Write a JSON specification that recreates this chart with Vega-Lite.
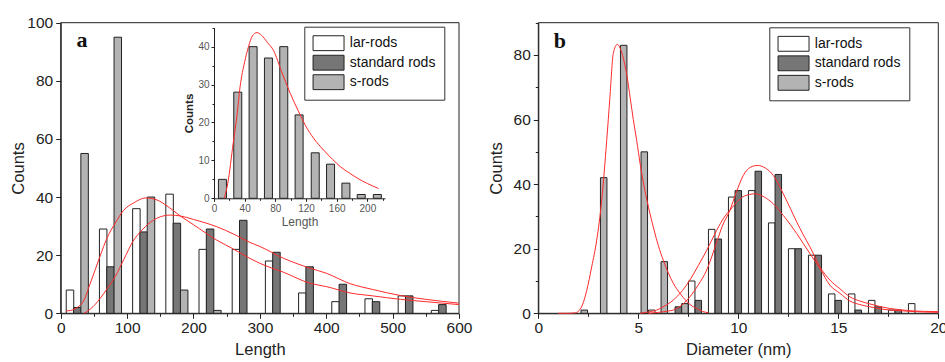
{
  "$schema": "https://vega.github.io/schema/vega-lite/v6.json",
  "width": 945,
  "height": 362,
  "autosize": {"type": "none"},
  "padding": 0,
  "background": "white",
  "config": {
    "font": "Liberation Sans",
    "view": {"stroke": null},
    "axis": {
      "domainColor": "#222", "tickColor": "#222", "labelColor": "#222", "titleColor": "#222",
      "labelFontSize": 15.5, "titleFontSize": 16.5, "titleFontWeight": "normal", "grid": false,
      "labelFont": "Liberation Sans", "titleFont": "Liberation Sans", "labelPadding": 2,
      "domainWidth": 1, "tickWidth": 1
    },
    "legend": {
      "title": null,
      "symbolType": "M-1,-0.96H3V0.96H-1Z",
      "symbolSize": 240,
      "symbolStrokeColor": "#222",
      "symbolStrokeWidth": 1,
      "symbolOpacity": 1,
      "labelFontSize": 14,
      "labelFont": "Liberation Sans",
      "labelColor": "#111",
      "labelOffset": 20.5,
      "rowPadding": 0.5,
      "padding": 8,
      "strokeColor": "#333",
      "fillColor": "white"
    }
  },
  "datasets": {
    "a_bars": [
      {"length": 14, "count": 8, "sample": "lar-rods"},
      {"length": 64, "count": 29, "sample": "lar-rods"},
      {"length": 114, "count": 36, "sample": "lar-rods"},
      {"length": 164, "count": 41, "sample": "lar-rods"},
      {"length": 214, "count": 22, "sample": "lar-rods"},
      {"length": 264, "count": 22, "sample": "lar-rods"},
      {"length": 314, "count": 18, "sample": "lar-rods"},
      {"length": 364, "count": 7, "sample": "lar-rods"},
      {"length": 414, "count": 4, "sample": "lar-rods"},
      {"length": 464, "count": 5, "sample": "lar-rods"},
      {"length": 514, "count": 6, "sample": "lar-rods"},
      {"length": 564, "count": 1, "sample": "lar-rods"},
      {"length": 25, "count": 2, "sample": "standard rods"},
      {"length": 75, "count": 16, "sample": "standard rods"},
      {"length": 125, "count": 28, "sample": "standard rods"},
      {"length": 175, "count": 31, "sample": "standard rods"},
      {"length": 225, "count": 29, "sample": "standard rods"},
      {"length": 275, "count": 32, "sample": "standard rods"},
      {"length": 325, "count": 21, "sample": "standard rods"},
      {"length": 375, "count": 16, "sample": "standard rods"},
      {"length": 425, "count": 10, "sample": "standard rods"},
      {"length": 475, "count": 4, "sample": "standard rods"},
      {"length": 525, "count": 6, "sample": "standard rods"},
      {"length": 575, "count": 3, "sample": "standard rods"},
      {"length": 36, "count": 55, "sample": "s-rods"},
      {"length": 86, "count": 95, "sample": "s-rods"},
      {"length": 136, "count": 40, "sample": "s-rods"},
      {"length": 186, "count": 8, "sample": "s-rods"},
      {"length": 236, "count": 1, "sample": "s-rods"}
    ],
    "a_curves": [
      {"fit": "f1", "length": 8, "count": 0.8}, {"fit": "f1", "length": 15, "count": 1}, {"fit": "f1", "length": 25, "count": 2},
      {"fit": "f1", "length": 35, "count": 4.5}, {"fit": "f1", "length": 44, "count": 10}, {"fit": "f1", "length": 52, "count": 15},
      {"fit": "f1", "length": 59, "count": 19.5}, {"fit": "f1", "length": 70, "count": 26}, {"fit": "f1", "length": 82, "count": 31},
      {"fit": "f1", "length": 95, "count": 35.5}, {"fit": "f1", "length": 110, "count": 38}, {"fit": "f1", "length": 128, "count": 39.7},
      {"fit": "f1", "length": 145, "count": 39}, {"fit": "f1", "length": 160, "count": 37}, {"fit": "f1", "length": 180, "count": 33.5},
      {"fit": "f1", "length": 200, "count": 30.5}, {"fit": "f1", "length": 235, "count": 25.2}, {"fit": "f1", "length": 261, "count": 22},
      {"fit": "f1", "length": 285, "count": 18.9}, {"fit": "f1", "length": 300, "count": 17.2}, {"fit": "f1", "length": 336, "count": 14.1},
      {"fit": "f1", "length": 376, "count": 10.3}, {"fit": "f1", "length": 400, "count": 9.2}, {"fit": "f1", "length": 436, "count": 7},
      {"fit": "f1", "length": 470, "count": 6}, {"fit": "f1", "length": 512, "count": 4.8}, {"fit": "f1", "length": 550, "count": 4},
      {"fit": "f1", "length": 600, "count": 3},
      {"fit": "f2", "length": 35, "count": 0}, {"fit": "f2", "length": 45, "count": 1.5}, {"fit": "f2", "length": 59, "count": 5},
      {"fit": "f2", "length": 70, "count": 8.5}, {"fit": "f2", "length": 82, "count": 12.6}, {"fit": "f2", "length": 95, "count": 18.5},
      {"fit": "f2", "length": 110, "count": 25.2}, {"fit": "f2", "length": 120, "count": 28}, {"fit": "f2", "length": 135, "count": 31.3},
      {"fit": "f2", "length": 150, "count": 33.2}, {"fit": "f2", "length": 165, "count": 33.8}, {"fit": "f2", "length": 180, "count": 33.5},
      {"fit": "f2", "length": 200, "count": 32.3}, {"fit": "f2", "length": 235, "count": 29.8}, {"fit": "f2", "length": 261, "count": 27.2},
      {"fit": "f2", "length": 285, "count": 24.4}, {"fit": "f2", "length": 300, "count": 23}, {"fit": "f2", "length": 336, "count": 18.9},
      {"fit": "f2", "length": 376, "count": 15.5}, {"fit": "f2", "length": 400, "count": 13.8}, {"fit": "f2", "length": 436, "count": 10.2},
      {"fit": "f2", "length": 470, "count": 8.2}, {"fit": "f2", "length": 512, "count": 6.1}, {"fit": "f2", "length": 550, "count": 4.8},
      {"fit": "f2", "length": 600, "count": 3.5}
    ],
    "inset_bars": [
      {"length": 11, "count": 5}, {"length": 31, "count": 28}, {"length": 51, "count": 40}, {"length": 71, "count": 37},
      {"length": 91, "count": 40}, {"length": 111, "count": 22}, {"length": 132, "count": 12}, {"length": 152, "count": 9},
      {"length": 172, "count": 4}, {"length": 192, "count": 1}, {"length": 213, "count": 1}
    ],
    "inset_curve": [
      {"length": 13.5, "count": 0}, {"length": 18, "count": 4}, {"length": 25, "count": 14.5}, {"length": 30, "count": 22},
      {"length": 34, "count": 29.4}, {"length": 40, "count": 36}, {"length": 45, "count": 40}, {"length": 50, "count": 42.8},
      {"length": 56, "count": 43.7}, {"length": 62, "count": 43}, {"length": 70, "count": 41}, {"length": 77.6, "count": 39},
      {"length": 88, "count": 33.5}, {"length": 99.4, "count": 27.7}, {"length": 110, "count": 23}, {"length": 119, "count": 19.3},
      {"length": 130, "count": 15.8}, {"length": 143, "count": 12.7}, {"length": 155, "count": 10.2}, {"length": 165, "count": 8.3},
      {"length": 177, "count": 6.6}, {"length": 187, "count": 5.3}, {"length": 200, "count": 3.9}, {"length": 214.5, "count": 2.6}
    ],
    "b_bars": [
      {"diameter": 5.67, "count": 1, "sample": "lar-rods"},
      {"diameter": 7.67, "count": 10, "sample": "lar-rods"},
      {"diameter": 8.67, "count": 26, "sample": "lar-rods"},
      {"diameter": 9.67, "count": 36, "sample": "lar-rods"},
      {"diameter": 10.67, "count": 38, "sample": "lar-rods"},
      {"diameter": 11.67, "count": 28, "sample": "lar-rods"},
      {"diameter": 12.67, "count": 20, "sample": "lar-rods"},
      {"diameter": 13.67, "count": 18, "sample": "lar-rods"},
      {"diameter": 14.67, "count": 6, "sample": "lar-rods"},
      {"diameter": 15.67, "count": 6, "sample": "lar-rods"},
      {"diameter": 16.67, "count": 4, "sample": "lar-rods"},
      {"diameter": 17.67, "count": 1, "sample": "lar-rods"},
      {"diameter": 18.67, "count": 3, "sample": "lar-rods"},
      {"diameter": 7, "count": 2, "sample": "standard rods"},
      {"diameter": 8, "count": 4, "sample": "standard rods"},
      {"diameter": 9, "count": 23, "sample": "standard rods"},
      {"diameter": 10, "count": 38, "sample": "standard rods"},
      {"diameter": 11, "count": 44, "sample": "standard rods"},
      {"diameter": 12, "count": 43, "sample": "standard rods"},
      {"diameter": 13, "count": 20, "sample": "standard rods"},
      {"diameter": 14, "count": 18, "sample": "standard rods"},
      {"diameter": 15, "count": 4, "sample": "standard rods"},
      {"diameter": 16, "count": 1, "sample": "standard rods"},
      {"diameter": 17, "count": 2, "sample": "standard rods"},
      {"diameter": 18, "count": 1, "sample": "standard rods"},
      {"diameter": 2.3, "count": 1, "sample": "s-rods"},
      {"diameter": 3.27, "count": 42, "sample": "s-rods"},
      {"diameter": 4.27, "count": 83, "sample": "s-rods"},
      {"diameter": 5.3, "count": 50, "sample": "s-rods"},
      {"diameter": 6.3, "count": 16, "sample": "s-rods"},
      {"diameter": 7.33, "count": 3, "sample": "s-rods"}
    ],
    "b_curves": [
      {"fit": "s", "diameter": 1, "count": 0}, {"fit": "s", "diameter": 1.5, "count": 0}, {"fit": "s", "diameter": 1.8, "count": 0.1},
      {"fit": "s", "diameter": 2.0, "count": 0.6}, {"fit": "s", "diameter": 2.2, "count": 2.5}, {"fit": "s", "diameter": 2.42, "count": 7},
      {"fit": "s", "diameter": 2.67, "count": 14.4}, {"fit": "s", "diameter": 2.92, "count": 22.6}, {"fit": "s", "diameter": 3.17, "count": 35},
      {"fit": "s", "diameter": 3.42, "count": 53.5}, {"fit": "s", "diameter": 3.58, "count": 66.8}, {"fit": "s", "diameter": 3.75, "count": 80.5},
      {"fit": "s", "diameter": 3.95, "count": 83.3}, {"fit": "s", "diameter": 4.1, "count": 82}, {"fit": "s", "diameter": 4.25, "count": 79},
      {"fit": "s", "diameter": 4.42, "count": 74}, {"fit": "s", "diameter": 4.6, "count": 66.5}, {"fit": "s", "diameter": 4.75, "count": 60},
      {"fit": "s", "diameter": 4.92, "count": 53.5}, {"fit": "s", "diameter": 5.1, "count": 46}, {"fit": "s", "diameter": 5.3, "count": 39},
      {"fit": "s", "diameter": 5.58, "count": 31}, {"fit": "s", "diameter": 5.8, "count": 25.5}, {"fit": "s", "diameter": 6.0, "count": 21},
      {"fit": "s", "diameter": 6.25, "count": 16.4}, {"fit": "s", "diameter": 6.5, "count": 12.5}, {"fit": "s", "diameter": 6.75, "count": 9.3},
      {"fit": "s", "diameter": 7.08, "count": 6.2}, {"fit": "s", "diameter": 7.4, "count": 3.8}, {"fit": "s", "diameter": 7.7, "count": 2.2},
      {"fit": "s", "diameter": 7.92, "count": 1.5}, {"fit": "s", "diameter": 8.2, "count": 0.6}, {"fit": "s", "diameter": 8.5, "count": 0.2},
      {"fit": "std", "diameter": 5.5, "count": 0}, {"fit": "std", "diameter": 6.0, "count": 0.3}, {"fit": "std", "diameter": 6.5, "count": 0.7},
      {"fit": "std", "diameter": 6.75, "count": 1}, {"fit": "std", "diameter": 7.0, "count": 1.8}, {"fit": "std", "diameter": 7.3, "count": 3.2},
      {"fit": "std", "diameter": 7.58, "count": 5.1}, {"fit": "std", "diameter": 8.0, "count": 8.8}, {"fit": "std", "diameter": 8.42, "count": 13.4},
      {"fit": "std", "diameter": 8.92, "count": 22}, {"fit": "std", "diameter": 9.2, "count": 27}, {"fit": "std", "diameter": 9.58, "count": 31.9},
      {"fit": "std", "diameter": 9.9, "count": 37.5}, {"fit": "std", "diameter": 10.25, "count": 42.7}, {"fit": "std", "diameter": 10.6, "count": 45.2},
      {"fit": "std", "diameter": 10.97, "count": 45.8}, {"fit": "std", "diameter": 11.35, "count": 45}, {"fit": "std", "diameter": 11.75, "count": 42.7},
      {"fit": "std", "diameter": 12.25, "count": 37}, {"fit": "std", "diameter": 12.6, "count": 32.5}, {"fit": "std", "diameter": 12.92, "count": 28.3},
      {"fit": "std", "diameter": 13.25, "count": 24.3}, {"fit": "std", "diameter": 13.58, "count": 20.6}, {"fit": "std", "diameter": 14.08, "count": 14.4},
      {"fit": "std", "diameter": 14.58, "count": 10.3}, {"fit": "std", "diameter": 15.08, "count": 7.6}, {"fit": "std", "diameter": 15.58, "count": 5.1},
      {"fit": "std", "diameter": 16.08, "count": 3.8}, {"fit": "std", "diameter": 16.58, "count": 2.9}, {"fit": "std", "diameter": 17.08, "count": 2.1},
      {"fit": "std", "diameter": 17.58, "count": 1.5}, {"fit": "std", "diameter": 18.08, "count": 1.1}, {"fit": "std", "diameter": 18.58, "count": 0.8},
      {"fit": "std", "diameter": 19.3, "count": 0.6}, {"fit": "std", "diameter": 20, "count": 0.5},
      {"fit": "lar", "diameter": 5.08, "count": 0}, {"fit": "lar", "diameter": 5.5, "count": 0.4}, {"fit": "lar", "diameter": 5.92, "count": 1},
      {"fit": "lar", "diameter": 6.3, "count": 2.2}, {"fit": "lar", "diameter": 6.75, "count": 4.1}, {"fit": "lar", "diameter": 7.2, "count": 7},
      {"fit": "lar", "diameter": 7.58, "count": 10.3}, {"fit": "lar", "diameter": 8.0, "count": 14.8}, {"fit": "lar", "diameter": 8.42, "count": 19.5},
      {"fit": "lar", "diameter": 8.92, "count": 25.7}, {"fit": "lar", "diameter": 9.3, "count": 29.8}, {"fit": "lar", "diameter": 9.58, "count": 31.9},
      {"fit": "lar", "diameter": 9.92, "count": 34.4}, {"fit": "lar", "diameter": 10.3, "count": 36.3}, {"fit": "lar", "diameter": 10.83, "count": 37},
      {"fit": "lar", "diameter": 11.3, "count": 36}, {"fit": "lar", "diameter": 11.75, "count": 33.9}, {"fit": "lar", "diameter": 12.25, "count": 30.3},
      {"fit": "lar", "diameter": 12.6, "count": 27.5}, {"fit": "lar", "diameter": 12.92, "count": 24.7}, {"fit": "lar", "diameter": 13.25, "count": 21.6},
      {"fit": "lar", "diameter": 13.58, "count": 18.5}, {"fit": "lar", "diameter": 14.08, "count": 13.9}, {"fit": "lar", "diameter": 14.58, "count": 8.7},
      {"fit": "lar", "diameter": 15.08, "count": 6.2}, {"fit": "lar", "diameter": 15.58, "count": 3.8}, {"fit": "lar", "diameter": 16.08, "count": 2.7},
      {"fit": "lar", "diameter": 16.58, "count": 2}, {"fit": "lar", "diameter": 17.08, "count": 1.4}, {"fit": "lar", "diameter": 17.58, "count": 1},
      {"fit": "lar", "diameter": 18.08, "count": 0.8}, {"fit": "lar", "diameter": 18.58, "count": 0.6}, {"fit": "lar", "diameter": 19.3, "count": 0.4},
      {"fit": "lar", "diameter": 20, "count": 0.3}
    ]
  },
  "resolve": {
    "scale": {"x": "independent", "y": "independent", "fill": "independent"},
    "axis": {"x": "independent", "y": "independent"},
    "legend": {"fill": "independent"}
  },
  "layer": [
    {
      "layer": [
        {
          "data": {"values": [{}]},
          "mark": {"type": "rect", "fillOpacity": 0, "stroke": "#222", "strokeWidth": 1},
          "encoding": {
            "x": {"datum": 0, "type": "quantitative"},
            "x2": {"datum": 600},
            "y": {"datum": 0, "type": "quantitative"},
            "y2": {"datum": 100}
          }
        },
        {
          "data": {"name": "a_bars"},
          "mark": {"type": "bar", "orient": "vertical", "width": 7.5, "stroke": "#222", "strokeWidth": 1},
          "encoding": {
            "x": {
              "field": "length", "type": "quantitative",
              "scale": {"domain": [0, 600], "range": [60.7, 459], "nice": false, "zero": false, "padding": 0},
              "axis": {
                "orient": "bottom", "offset": -48.7,
                "title": "Length", "format": "d",
                "values": [0, 50, 100, 150, 200, 250, 300, 350, 400, 450, 500, 550, 600],
                "labelExpr": "datum.value % 100 === 0 ? datum.label : ''",
                "tickSize": {"condition": {"test": "datum.value % 100 === 0", "value": 5}, "value": 3},
                "titlePadding": 6, "labelFlush": false, "labelOverlap": false
              }
            },
            "y": {
              "field": "count", "type": "quantitative", "stack": null,
              "scale": {"domain": [0, 100], "range": [313.3, 22.7], "nice": false, "zero": false, "padding": 0},
              "axis": {
                "orient": "left", "offset": -60.7,
                "title": "Counts", "format": "d",
                "values": [0, 10, 20, 30, 40, 50, 60, 70, 80, 90, 100],
                "labelExpr": "datum.value % 20 === 0 ? datum.label : ''",
                "tickSize": {"condition": {"test": "datum.value % 20 === 0", "value": 5}, "value": 3},
                "labelPadding": 3, "titlePadding": 0, "labelOverlap": false
              }
            },
            "fill": {
              "field": "sample", "type": "nominal",
              "scale": {"domain": ["lar-rods", "standard rods", "s-rods"], "range": ["#ffffff", "#767676", "#b3b3b3"]},
              "legend": {"orient": "none", "legendX": 304.3, "legendY": 26.7, "labelExpr": "datum.label + '  '"}
            }
          }
        },
        {
          "data": {"name": "a_curves"},
          "mark": {"type": "line", "color": "#ff2a2a", "strokeWidth": 1, "interpolate": "monotone"},
          "encoding": {
            "x": {"field": "length", "type": "quantitative"},
            "y": {"field": "count", "type": "quantitative"},
            "detail": {"field": "fit", "type": "nominal"}
          }
        },
        {
          "data": {"values": [{"label": "a"}]},
          "mark": {"type": "text", "font": "Liberation Serif", "fontWeight": "bold", "fontSize": 22, "baseline": "alphabetic", "align": "center", "color": "#111"},
          "encoding": {
            "x": {"datum": 32, "type": "quantitative"},
            "y": {"datum": 91.7, "type": "quantitative"},
            "text": {"field": "label"}
          }
        }
      ]
    },
    {
      "layer": [
        {
          "data": {"name": "inset_bars"},
          "mark": {"type": "bar", "orient": "vertical", "width": 8, "fill": "#b3b3b3", "stroke": "#222", "strokeWidth": 1},
          "encoding": {
            "x": {
              "field": "length", "type": "quantitative",
              "scale": {"domain": [0, 223], "range": [214, 385], "nice": false, "zero": false, "padding": 0},
              "axis": {
                "orient": "bottom", "offset": -163.7, "title": "Length", "format": "d",
                "values": [0, 20, 40, 60, 80, 100, 120, 140, 160, 180, 200, 220],
                "labelExpr": "datum.value % 40 === 0 ? datum.label : ''",
                "tickSize": {"condition": {"test": "datum.value % 40 === 0", "value": 3}, "value": 2},
                "labelFontSize": 10, "labelColor": "#555", "titleFontSize": 12, "titleColor": "#555",
                "titlePadding": 3, "labelPadding": 2, "labelFlush": false, "labelOverlap": false
              }
            },
            "y": {
              "field": "count", "type": "quantitative",
              "scale": {"domain": [0, 45], "range": [198.3, 27.7], "nice": false, "zero": false, "padding": 0},
              "axis": {
                "orient": "left", "offset": -214, "title": "Counts", "format": "d",
                "values": [0, 5, 10, 15, 20, 25, 30, 35, 40, 45],
                "labelExpr": "datum.value % 10 === 0 ? datum.label : ''",
                "tickSize": {"condition": {"test": "datum.value % 10 === 0", "value": 3}, "value": 2},
                "labelFontSize": 10, "labelColor": "#555", "titleFontSize": 11.5, "titleFontWeight": "bold", "titleColor": "#222",
                "titlePadding": 3, "labelPadding": 2, "labelOverlap": false
              }
            }
          }
        },
        {
          "data": {"name": "inset_curve"},
          "mark": {"type": "line", "color": "#ff2a2a", "strokeWidth": 1, "interpolate": "monotone"},
          "encoding": {
            "x": {"field": "length", "type": "quantitative"},
            "y": {"field": "count", "type": "quantitative"}
          }
        }
      ]
    },
    {
      "layer": [
        {
          "data": {"values": [{}]},
          "mark": {"type": "rect", "fillOpacity": 0, "stroke": "#222", "strokeWidth": 1},
          "encoding": {
            "x": {"datum": 0, "type": "quantitative"},
            "x2": {"datum": 20},
            "y": {"datum": 0, "type": "quantitative"},
            "y2": {"datum": 90}
          }
        },
        {
          "data": {"name": "b_bars"},
          "mark": {"type": "bar", "orient": "vertical", "width": 6.5, "stroke": "#222", "strokeWidth": 1},
          "encoding": {
            "x": {
              "field": "diameter", "type": "quantitative",
              "scale": {"domain": [0, 20], "range": [538.3, 938.3], "nice": false, "zero": false, "padding": 0},
              "axis": {
                "orient": "bottom", "offset": -48.7,
                "title": "Diameter (nm)", "format": "d",
                "values": [0, 2.5, 5, 7.5, 10, 12.5, 15, 17.5, 20],
                "labelExpr": "datum.value % 5 === 0 ? datum.label : ''",
                "tickSize": {"condition": {"test": "datum.value % 5 === 0", "value": 5}, "value": 3},
                "titlePadding": 6, "labelFlush": false, "labelOverlap": false
              }
            },
            "y": {
              "field": "count", "type": "quantitative", "stack": null,
              "scale": {"domain": [0, 90], "range": [313.3, 22.7], "nice": false, "zero": false, "padding": 0},
              "axis": {
                "orient": "left", "offset": -538.3,
                "title": "Counts", "format": "d",
                "values": [0, 10, 20, 30, 40, 50, 60, 70, 80, 90],
                "labelExpr": "datum.value % 20 === 0 ? datum.label : ''",
                "tickSize": {"condition": {"test": "datum.value % 20 === 0", "value": 5}, "value": 3},
                "labelPadding": 3, "titlePadding": 9, "labelOverlap": false
              }
            },
            "fill": {
              "field": "sample", "type": "nominal",
              "scale": {"domain": ["lar-rods", "standard rods", "s-rods"], "range": ["#ffffff", "#767676", "#b3b3b3"]},
              "legend": {"orient": "none", "legendX": 769.3, "legendY": 27.3, "labelExpr": "datum.label + '    '"}
            }
          }
        },
        {
          "data": {"name": "b_curves"},
          "mark": {"type": "line", "color": "#ff2a2a", "strokeWidth": 1, "interpolate": "monotone"},
          "encoding": {
            "x": {"field": "diameter", "type": "quantitative"},
            "y": {"field": "count", "type": "quantitative"},
            "detail": {"field": "fit", "type": "nominal"}
          }
        },
        {
          "data": {"values": [{"label": "b"}]},
          "mark": {"type": "text", "font": "Liberation Serif", "fontWeight": "bold", "fontSize": 22, "baseline": "alphabetic", "align": "center", "color": "#111"},
          "encoding": {
            "x": {"datum": 1.08, "type": "quantitative"},
            "y": {"datum": 82.3, "type": "quantitative"},
            "text": {"field": "label"}
          }
        }
      ]
    }
  ]
}
